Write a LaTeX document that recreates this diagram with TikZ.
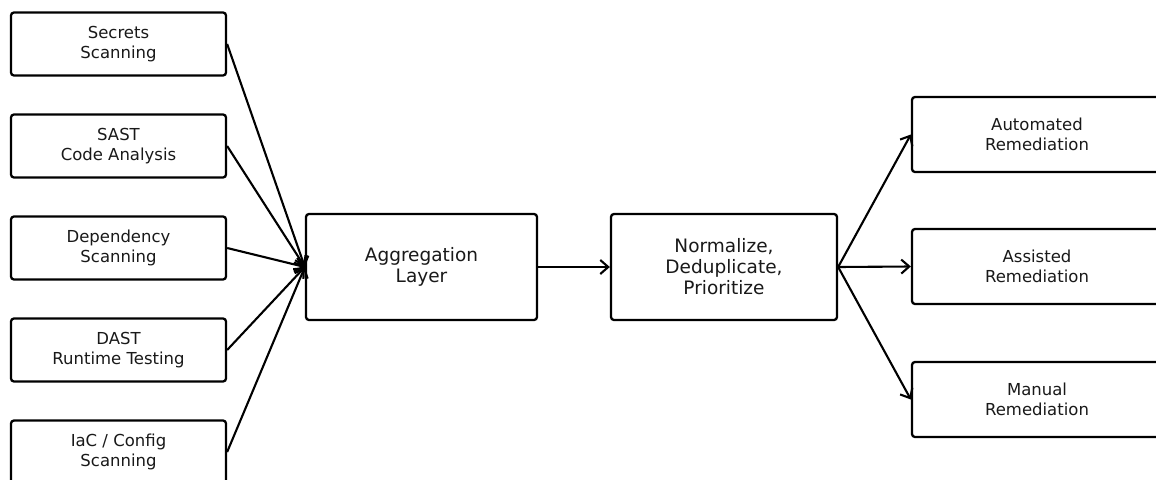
\documentclass[tikz,border=0pt]{standalone}
\usepackage{fontspec}
\setmainfont{DejaVu Sans}
\usetikzlibrary{arrows.meta}
\begin{document}
\begin{tikzpicture}[x=1pt,y=-1pt,
  box/.style={draw=black, line width=2.3pt, rounded corners=3pt, fill=white, inner sep=0pt, align=center, text=black!90},
  small/.style={box, font=\fontsize{16.5}{20}\selectfont},
  big/.style={box, font=\fontsize{18.5}{21}\selectfont},
  arr/.style={line width=2.1pt, -{Straight Barb[length=8pt,width=14pt,line width=2.1pt]}}]
\useasboundingbox (0,0) rectangle (1156,479);
\fill[white] (0,0) rectangle (1156,479);
\node[small, minimum width=215pt, minimum height=63pt] (sec) at (118.5,44) {Secrets\\Scanning};
\node[small, minimum width=215pt, minimum height=63pt] (sast) at (118.5,146) {SAST\\Code Analysis};
\node[small, minimum width=215pt, minimum height=63pt] (dep) at (118.5,248) {Dependency\\Scanning};
\node[small, minimum width=215pt, minimum height=63pt] (dast) at (118.5,350) {DAST\\Runtime Testing};
\node[small, minimum width=215pt, minimum height=63pt] (iac) at (118.5,452) {IaC / Config\\Scanning};
\node[big, minimum width=231pt, minimum height=106pt] (agg) at (421.5,267) {Aggregation\\Layer};
\node[big, minimum width=226pt, minimum height=106pt] (norm) at (724,267) {Normalize,\\Deduplicate,\\Prioritize};
\node[small, minimum width=250pt, minimum height=75pt] (auto) at (1037,134.5) {Automated\\Remediation};
\node[small, minimum width=250pt, minimum height=75pt] (assist) at (1037,266.5) {Assisted\\Remediation};
\node[small, minimum width=250pt, minimum height=75pt] (man) at (1037,399.5) {Manual\\Remediation};
\foreach \s in {sec,sast,dep,dast,iac} \draw[arr] (\s.east) -- (agg.west);
\draw[arr] (agg.east) -- (norm.west);
\draw[arr] (norm.east) -- (auto.west);
\draw[arr] (norm.east) -- (assist.west);
\draw[arr] (norm.east) -- (man.west);
\end{tikzpicture}
\end{document}
